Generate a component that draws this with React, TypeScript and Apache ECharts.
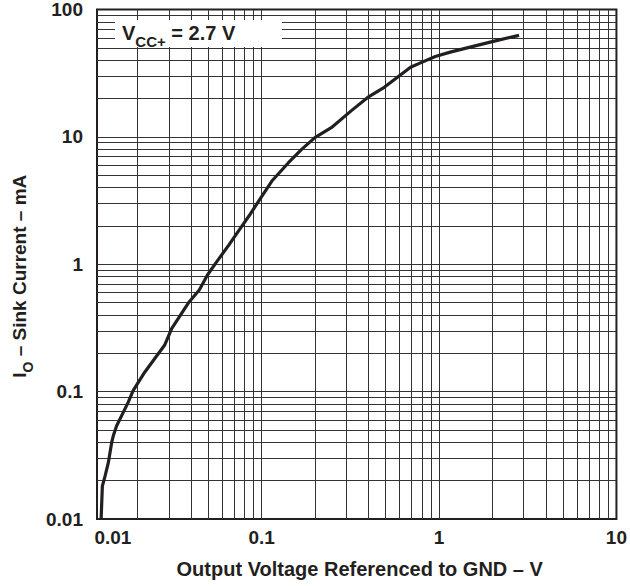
import React, { useEffect, useRef } from "react";
import * as echarts from "echarts";

// Output voltage (V) and sink current (mA)
const voltage = [
  0.01245, 0.01265, 0.0131, 0.01367, 0.01428, 0.01458, 0.01523, 0.01659, 0.01768, 0.01886,
  0.02192, 0.02492, 0.02836, 0.0311, 0.0359, 0.0391, 0.0445, 0.0495, 0.0551, 0.0654,
  0.076, 0.0846, 0.0962, 0.1142, 0.1416, 0.168, 0.1995, 0.247, 0.3194, 0.396,
  0.491, 0.535, 0.691, 0.786, 0.953, 1.156, 1.496, 2.021, 2.825,
];
const sinkCurrent = [
  0.01, 0.0181, 0.0217, 0.0277, 0.0399, 0.045, 0.0539, 0.0687, 0.0824, 0.1019,
  0.142, 0.181, 0.231, 0.313, 0.424, 0.508, 0.627, 0.824, 1.02, 1.42,
  1.92, 2.38, 3.13, 4.5, 6.27, 7.98, 9.87, 11.8, 16.0, 20.4,
  24.5, 26.8, 35.2, 38.1, 42.8, 46.3, 50.7, 56.2, 62.7,
];

// Tick labels and where they sit
const xTickLabels = ["0.01", "0.1", "1", "10"];
const xTickAt = [0.0145, 0.1, 1, 10];
const yTickLabels = ["0.01", "0.1", "1", "10", "100"];
const yTickAt = [0.01, 0.1, 1, 10, 100];

// Log grid lines
const xGridLines = [
  0.02, 0.03, 0.04, 0.05, 0.06, 0.07, 0.08, 0.09,
  0.1, 0.2, 0.3, 0.4, 0.5, 0.6, 0.7, 0.8, 0.9,
  1, 2, 3, 4, 5, 6, 7, 8, 9,
];
const yGridLines = [
  0.02, 0.03, 0.04, 0.05, 0.06, 0.07, 0.08, 0.09,
  0.1, 0.2, 0.3, 0.4, 0.5, 0.6, 0.7, 0.8, 0.9,
  1, 2, 3, 4, 5, 6, 7, 8, 9,
  10, 20, 30, 40, 50, 60, 70, 80, 90,
];

const X_MIN = 0.0118;
const X_MAX = 10;
const Y_MIN = 0.01;
const Y_MAX = 100;

const FONT = "'Liberation Sans', Arial, Helvetica, sans-serif";
const INK = "#231f20";

function pickLabel(values: number[], labels: string[]) {
  return (v: number) => {
    const lv = Math.log10(v);
    for (let i = 0; i < values.length; i++) {
      if (Math.abs(Math.log10(values[i]) - lv) < 1e-4) return labels[i];
    }
    return "";
  };
}

export default function App() {
  const ref = useRef<HTMLDivElement>(null);

  useEffect(() => {
    if (!ref.current) return;
    const chart = echarts.init(ref.current, undefined, { renderer: "svg" });
    const curve = voltage.map((v, i) => [v, sinkCurrent[i]]);

    const tickStyle = {
      fontFamily: FONT,
      fontWeight: "bold" as const,
      fontSize: 19,
      color: INK,
    };
    const titleStyle = { ...tickStyle, fontSize: 20 };

    chart.setOption({
      animation: false,
      backgroundColor: "#ffffff",
      grid: {
        left: 97,
        right: 10,
        top: 9,
        bottom: 67,
        show: true,
        borderColor: INK,
        borderWidth: 2,
        backgroundColor: "transparent",
        containLabel: false,
      },
      xAxis: {
        type: "log",
        logBase: 10,
        min: X_MIN,
        max: X_MAX,
        axisLine: { show: false },
        axisTick: { show: false },
        splitLine: { show: false },
        minorTick: { show: false },
        axisLabel: {
          ...tickStyle,
          margin: 9,
          customValues: xTickAt,
          formatter: pickLabel(xTickAt, xTickLabels),
        },
        name: "Output Voltage Referenced to GND – V",
        nameLocation: "middle",
        nameGap: 40,
        nameTextStyle: { ...titleStyle, padding: [0, 0, 0, 6] },
      },
      yAxis: {
        type: "log",
        logBase: 10,
        min: Y_MIN,
        max: Y_MAX,
        axisLine: { show: false },
        axisTick: { show: false },
        splitLine: { show: false },
        minorTick: { show: false },
        axisLabel: {
          ...tickStyle,
          margin: 14,
          customValues: yTickAt,
          formatter: pickLabel(yTickAt, yTickLabels),
        },
        name: "{m|I}{s|O}{m| – Sink Current – mA}",
        nameLocation: "middle",
        nameRotate: 90,
        nameGap: 57,
        nameTextStyle: {
          ...titleStyle,
          fontSize: 19,
          padding: [0, 24, 0, 0],
          rich: {
            m: { fontFamily: FONT, fontWeight: "bold", fontSize: 19, color: INK, lineHeight: 20, verticalAlign: "top" },
            s: { fontFamily: FONT, fontWeight: "bold", fontSize: 14, color: INK, lineHeight: 25, verticalAlign: "bottom" },
          },
        },
      },
      graphic: [
        {
          type: "rect",
          z: 100,
          shape: { x: 115, y: 20, width: 167, height: 27 },
          style: { fill: "#ffffff" },
        },
        {
          type: "text",
          z: 101,
          x: 122,
          y: 23,
          style: {
            text: "{v|V}{s|CC+}{v| = 2.7 V}",
            rich: {
              v: { fontFamily: FONT, fontWeight: "bold", fontSize: 20, fill: INK, lineHeight: 21, verticalAlign: "top" },
              s: { fontFamily: FONT, fontWeight: "bold", fontSize: 15, fill: INK, lineHeight: 26, verticalAlign: "bottom" },
            },
          },
        },
      ],
      series: [
        {
          type: "line",
          z: 1,
          data: curve,
          showSymbol: false,
          silent: true,
          lineStyle: { opacity: 0 },
          markLine: {
            silent: true,
            symbol: ["none", "none"],
            label: { show: false },
            emphasis: { disabled: true },
            lineStyle: { color: "#333333", width: 1, type: "solid" },
            data: [
              ...xGridLines.map((v) => ({ xAxis: v })),
              ...yGridLines.map((v) => ({ yAxis: v })),
            ],
          },
        },
        {
          type: "line",
          z: 5,
          data: curve,
          showSymbol: false,
          silent: true,
          smooth: false,
          lineStyle: { color: INK, width: 3.2 },
        },
      ],
    });

    return () => chart.dispose();
  }, []);

  return (
    <div
      ref={ref}
      style={{ position: "absolute", left: 0, top: 0, width: 630, height: 586 }}
    />
  );
}
